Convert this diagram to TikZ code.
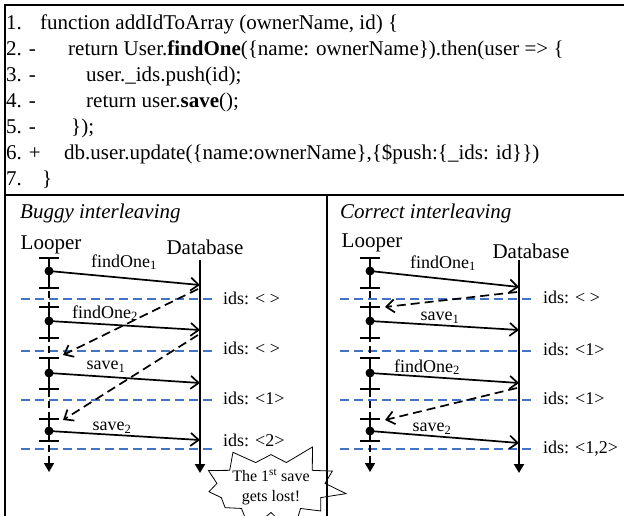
\documentclass[tikz,border=0pt]{standalone}
\usepackage{fontspec}
\setmainfont{Liberation Serif}
\usepackage{tikz}
\usetikzlibrary{positioning}
\usetikzlibrary{arrows.meta,shapes.symbols}
\definecolor{sepblue}{RGB}{68,114,196}
\tikzstyle{frame} = [draw, line width=1.8pt]
\tikzstyle{code} = [anchor=base west, inner sep=0pt, font=\fontsize{21}{25}\selectfont]
\tikzstyle{actor} = [inner sep=0pt, font=\fontsize{21}{25}\selectfont]
\tikzstyle{lbl} = [inner sep=0pt, font=\fontsize{18}{20}\selectfont]
\tikzstyle{ids} = [anchor=west, inner sep=0pt, font=\fontsize{18}{20}\selectfont]
\tikzstyle{msg} = [draw, line width=1.7pt, -{Straight Barb[length=8pt,width=13pt]}]
\tikzstyle{reply} = [msg, dash pattern=on 9pt off 5pt]
\tikzstyle{state} = [draw=sepblue, line width=1.2pt, dash pattern=on 9pt off 5pt]
\tikzstyle{dot} = [circle, fill, inner sep=0pt, minimum size=9pt]
\tikzstyle{life} = [draw, line width=1.7pt, dash pattern=on 7pt off 4pt, -{Triangle[length=9pt,width=10pt]}]
\tikzstyle{dbline} = [draw, line width=2.2pt, -{Triangle[length=9pt,width=10pt]}]

\begin{document}
\begin{tikzpicture}[x=1pt, y=-1pt]
\useasboundingbox (0,0) rectangle (624,515);
    % frame
\draw [frame] (5,525) -- (5,5) -- (626,5);
\draw [frame] (5,195) -- (626,195);
\draw [frame] (327,195) -- (327,525);

    % code
\node [code] (n1) at (6,29) {1.};
\node [code] (c1) at (40,29) {function addIdToArray (ownerName, id) \{};
\node [code] (n2) at (6,55) {2. -};
\node [code] (c2) at (68,55) {return User.\textbf{findOne}(\{name: ownerName\}).then(user => \{};
\node [code] (n3) at (6,81) {3. -};
\node [code] (c3) at (86,81) {user.\_ids.push(id);};
\node [code] (n4) at (6,107) {4. -};
\node [code] (c4) at (86,107) {return user.\textbf{save}();};
\node [code] (n5) at (6,133) {5. -};
\node [code] (c5) at (71,133) {\});};
\node [code] (n6) at (6,159) {6. +};
\node [code] (c6) at (64,159) {db.user.update(\{name:ownerName\},\{\$push:\{\_ids: id\}\})};
\node [code] (n7) at (6,185) {7.};
\node [code] (c7) at (42,185) {\}};

    % buggy side
\node [actor, anchor=west, font=\fontsize{21}{25}\selectfont\itshape] (bt) at (20,213) {Buggy interleaving};
\node [actor] (bloop) at (51,245) {Looper};
\node [actor] (bdb) at (205,247) {Database};

\foreach \y in {299,351,400,449}
  \draw [state] (21,\y) -- (215,\y);

\draw [life] (49,258) -- (49,472);
\draw [dbline] (200,260) -- (200,473);
\foreach \t/\b in {258/288,307/338,358/389,419/441} {
  \draw [line width=1.7pt] (49,\t) -- (49,\b);
  \draw [line width=1.7pt] (39,\t) -- (59,\t);
  \draw [line width=1.7pt] (39,\b) -- (59,\b);
}

\node [dot] (bd1) at (49,271) {};
\node [dot] (bd2) at (49,321) {};
\node [dot] (bd3) at (49,373) {};
\node [dot] (bd4) at (49,431) {};
\coordinate (bm1) at (200,285);
\coordinate (bm2) at (200,330);
\coordinate (bm3) at (200,383);
\coordinate (bm4) at (200,440);
\coordinate (br1s) at (198,289);
\coordinate (br1e) at (63,355);
\coordinate (br2s) at (198,335);
\coordinate (br2e) at (63,420);

\path [msg] (bd1.center) -- (bm1);
\path [msg] (bd2.center) -- (bm2);
\path [msg] (bd3.center) -- (bm3);
\path [msg] (bd4.center) -- (bm4);
\path [reply] (br1s) -- (br1e);
\path [reply] (br2s) -- (br2e);

\node [lbl] (bl1) at (124,262) {findOne\textsubscript{1}};
\node [lbl] (bl2) at (105,313) {findOne\textsubscript{2}};
\node [lbl] (bl3) at (106,367) {save\textsubscript{1}};
\node [lbl] (bl4) at (112,428) {save\textsubscript{2}};

\node [ids] (bi1) at (223,298) {ids: < >};
\node [ids] (bi2) at (223,348) {ids: < >};
\node [ids] (bi3) at (223,398) {ids: <1>};
\node [ids] (bi4) at (223,440) {ids: <2>};

\node [starburst, draw, line width=0.8pt, minimum width=112pt, minimum height=72pt,
       starburst point height=24pt, starburst points=11, random starburst=13,
       align=center, inner sep=0pt, font=\fontsize{16}{20}\selectfont] (lost) at (271,487)
      {The 1\textsuperscript{st} save\\gets lost!};

    % correct side
\node [actor, anchor=west, font=\fontsize{21}{25}\selectfont\itshape] (ct) at (340,213) {Correct interleaving};
\node [actor] (cloop) at (372,243) {Looper};
\node [actor] (cdb) at (531,251) {Database};

\foreach \y in {299,351,400,449}
  \draw [state] (340,\y) -- (536,\y);

\draw [life] (370,258) -- (370,472);
\draw [dbline] (519,260) -- (519,473);
\foreach \t/\b in {258/288,307/338,358/389,419/441} {
  \draw [line width=1.7pt] (370,\t) -- (370,\b);
  \draw [line width=1.7pt] (360,\t) -- (380,\t);
  \draw [line width=1.7pt] (360,\b) -- (380,\b);
}

\node [dot] (cd1) at (370,271) {};
\node [dot] (cd2) at (370,321) {};
\node [dot] (cd3) at (370,373) {};
\node [dot] (cd4) at (370,431) {};
\coordinate (cm1) at (519,287);
\coordinate (cm2) at (519,330);
\coordinate (cm3) at (519,383);
\coordinate (cm4) at (519,443);
\coordinate (cr1s) at (517,292);
\coordinate (cr1e) at (385,307);
\coordinate (cr2s) at (517,388);
\coordinate (cr2e) at (385,420);

\path [msg] (cd1.center) -- (cm1);
\path [msg] (cd2.center) -- (cm2);
\path [msg] (cd3.center) -- (cm3);
\path [msg] (cd4.center) -- (cm4);
\path [reply] (cr1s) -- (cr1e);
\path [reply] (cr2s) -- (cr2e);

\node [lbl] (cl1) at (443,263) {findOne\textsubscript{1}};
\node [lbl] (cl2) at (440,318) {save\textsubscript{1}};
\node [lbl] (cl3) at (427,367) {findOne\textsubscript{2}};
\node [lbl] (cl4) at (432,429) {save\textsubscript{2}};

\node [ids] (ci1) at (543,297) {ids: < >};
\node [ids] (ci2) at (543,349) {ids: <1>};
\node [ids] (ci3) at (543,398) {ids: <1>};
\node [ids] (ci4) at (543,449) {ids: <1,2>};

\end{tikzpicture}
\end{document}
